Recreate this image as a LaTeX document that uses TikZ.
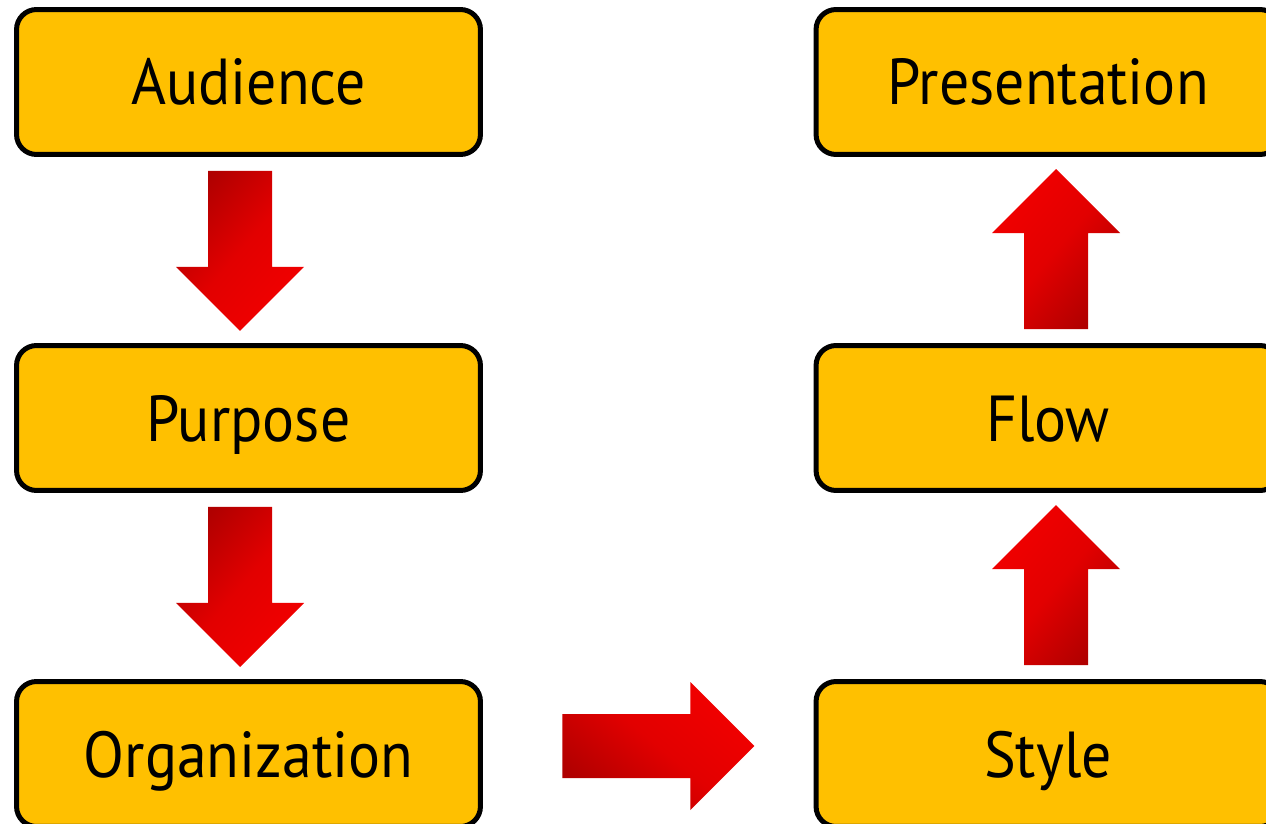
\documentclass[tikz,border=0pt]{standalone}
\usepackage{fontspec}
\setmainfont[FakeStretch=0.92]{PT Sans}
\usetikzlibrary{calc}

\definecolor{boxgold}{RGB}{255,192,0}
\definecolor{darkred}{RGB}{176,0,0}
\definecolor{midred}{RGB}{226,0,0}
\definecolor{brightred}{RGB}{242,0,0}

\begin{document}
\begin{tikzpicture}[x=0.02cm,y=0.02cm,
		stage/.style={draw=black,line width=0.1cm,fill=boxgold,rounded corners=0.4cm,
			minimum width=9.28cm,minimum height=2.9cm,inner sep=0pt,
			text height=0.92cm,text depth=0pt,font=\fontsize{37}{44}\selectfont},
		downarr/.style={top color=darkred,bottom color=brightred,middle color=midred,shading angle=50},
		uparr/.style={top color=brightred,bottom color=darkred,middle color=midred,shading angle=50},
		rightarr/.style={top color=brightred,bottom color=darkred,middle color=midred,shading angle=-40}]
		\useasboundingbox (0,0) rectangle (1266,823);
		\node[stage] (aud) at (248.5,741) {Audience}; %left column
		\node[stage] (pur) at (248.5,405) {Purpose};
		\node[stage] (org) at (248.5,69) {Organization};
		\node[stage] (sty) at (1048,69) {Style}; %right column
		\node[stage] (flow) at (1048,405) {Flow};
		\node[stage] (pres) at (1048,741) {Presentation};
		\foreach \a in {aud,pur}{ %down arrows
			\coordinate (d) at ($(\a.south)+(-8.5,-14)$);
			\shade[downarr,shift={(d)}] (-32,0)--(-32,-96)--(-64,-96)--(0,-160)--(64,-96)--(32,-96)--(32,0)--cycle;
		}
		\coordinate (r) at ($(org.east)+(79.5,8)$); %right arrow
		\shade[rightarr,shift={(r)}] (0,-32)--(128,-32)--(128,-64)--(192,0)--(128,64)--(128,32)--(0,32)--cycle;
		\foreach \a in {sty,flow}{ %up arrows
			\coordinate (u) at ($(\a.north)+(8,14)$);
			\shade[uparr,shift={(u)}] (-32,0)--(-32,96)--(-64,96)--(0,160)--(64,96)--(32,96)--(32,0)--cycle;
		}
	\end{tikzpicture}
\end{document}
